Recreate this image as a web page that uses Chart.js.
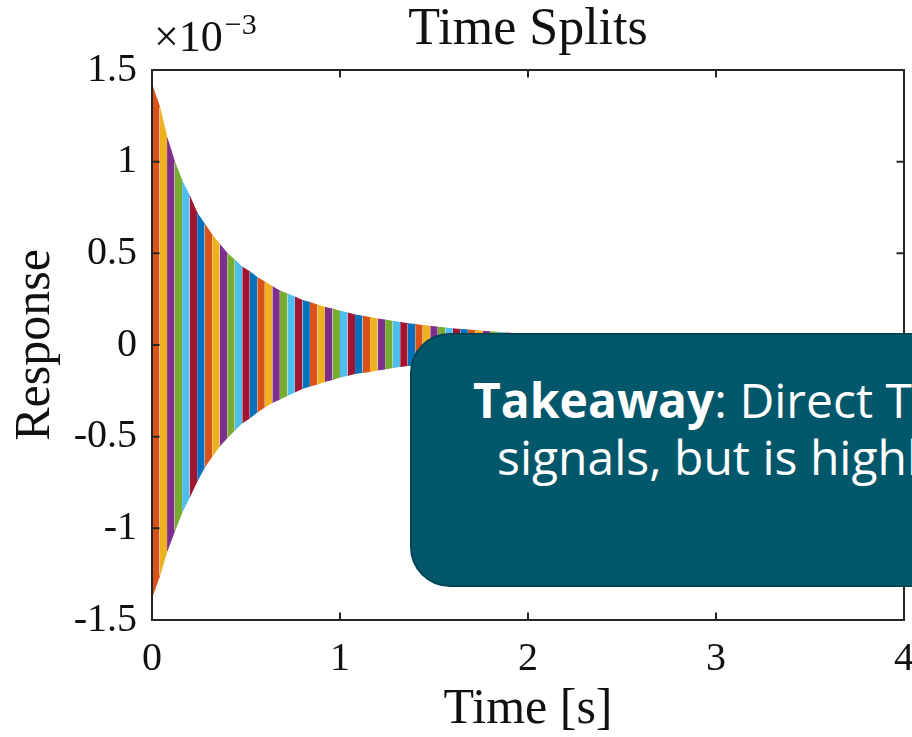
<!DOCTYPE html>
<html>
<head>
<meta charset="utf-8">
<script src="https://cdn.jsdelivr.net/npm/chart.js@4.4.0/dist/chart.umd.min.js"></script>
<style>
  html, body { margin: 0; padding: 0; background: #ffffff; overflow: hidden; }
  #wrap { position: relative; width: 912px; height: 737px; overflow: hidden; }
  #chart { position: absolute; left: 0; top: 0; }
  .takeaway {
    position: absolute; left: 410px; top: 333px;
    width: 820px; height: 250px;
    background: #02576a; border: 2px solid #014656; border-radius: 40px;
    color: #ffffff; font-family: "Open Sans", sans-serif; font-size: 48px; line-height: 57px;
    white-space: nowrap; box-sizing: content-box;
  }
  .takeaway .l1 { position: absolute; left: 61px; top: 36px; }
  .takeaway .l2 { position: absolute; left: 85px; top: 93px; }
  .takeaway b { font-weight: 700; }
</style>
</head>
<body>
<div id="wrap">
  <canvas id="chart" width="960" height="737"></canvas>
  <div class="takeaway">
    <div class="l1"><b>Takeaway</b>: Direct Time Splits handles long</div>
    <div class="l2">signals, but is highly sensitive to the split</div>
  </div>
</div>
<script>
// Boundaries of the 0.04 s time splits [s]
const splitTimes = [
  0.00, 0.04, 0.08, 0.12, 0.16, 0.20, 0.24, 0.28, 0.32, 0.36,
  0.40, 0.44, 0.48, 0.52, 0.56, 0.60, 0.64, 0.68, 0.72, 0.76,
  0.80, 0.84, 0.88, 0.92, 0.96, 1.00, 1.04, 1.08, 1.12, 1.16,
  1.20, 1.24, 1.28, 1.32, 1.36, 1.40, 1.44, 1.48, 1.52, 1.56,
  1.60, 1.64, 1.68, 1.72, 1.76, 1.80, 1.84, 1.88, 1.92, 1.96,
  2.00, 2.04, 2.08, 2.12, 2.16, 2.20, 2.24, 2.28, 2.32, 2.36,
  2.40, 2.44, 2.48, 2.52, 2.56, 2.60, 2.64, 2.68, 2.72, 2.76,
  2.80, 2.84, 2.88, 2.92, 2.96, 3.00, 3.04, 3.08, 3.12, 3.16,
  3.20, 3.24, 3.28, 3.32, 3.36, 3.40, 3.44, 3.48, 3.52, 3.56,
  3.60, 3.64, 3.68, 3.72, 3.76, 3.80, 3.84, 3.88, 3.92, 3.96,
  4.00
];

// Positive peak envelope of the response at each split boundary [x 1e-3]
const upperEnvelope = [
  1.418, 1.300, 1.130, 1.000, 0.895, 0.813, 0.720, 0.660, 0.600, 0.550,
  0.500, 0.464, 0.425, 0.400, 0.368, 0.344, 0.319, 0.295, 0.278, 0.262,
  0.243, 0.232, 0.218, 0.205, 0.196, 0.185, 0.175, 0.164, 0.157, 0.150,
  0.142, 0.136, 0.129, 0.123, 0.116, 0.112, 0.106, 0.102, 0.097, 0.093,
  0.088, 0.085, 0.082, 0.079, 0.075, 0.072, 0.069, 0.066, 0.063, 0.060,
  0.058, 0.055, 0.053, 0.050, 0.048, 0.046, 0.044, 0.042, 0.040, 0.038,
  0.037, 0.035, 0.034, 0.032, 0.031, 0.029, 0.028, 0.027, 0.026, 0.024,
  0.023, 0.022, 0.021, 0.020, 0.019, 0.019, 0.018, 0.017, 0.016, 0.016,
  0.015, 0.014, 0.014, 0.013, 0.012, 0.012, 0.011, 0.011, 0.010, 0.010,
  0.009, 0.009, 0.009, 0.008, 0.008, 0.008, 0.007, 0.007, 0.007, 0.006,
  0.006
];

// Negative peak envelope of the response at each split boundary [x 1e-3]
const lowerEnvelope = [
  -1.375, -1.260, -1.124, -1.015, -0.911, -0.829, -0.742, -0.666, -0.606, -0.551,
  -0.507, -0.464, -0.425, -0.398, -0.366, -0.338, -0.314, -0.295, -0.276, -0.256,
  -0.237, -0.224, -0.213, -0.199, -0.188, -0.175, -0.166, -0.155, -0.150, -0.145,
  -0.136, -0.131, -0.123, -0.117, -0.112, -0.108, -0.103, -0.099, -0.095, -0.091,
  -0.087, -0.083, -0.080, -0.077, -0.074, -0.071, -0.068, -0.065, -0.062, -0.059,
  -0.057, -0.054, -0.052, -0.049, -0.047, -0.045, -0.043, -0.041, -0.039, -0.037,
  -0.036, -0.034, -0.033, -0.031, -0.030, -0.028, -0.027, -0.026, -0.025, -0.023,
  -0.022, -0.021, -0.020, -0.019, -0.018, -0.018, -0.017, -0.016, -0.015, -0.015,
  -0.014, -0.013, -0.013, -0.012, -0.011, -0.011, -0.010, -0.010, -0.009, -0.009,
  -0.008, -0.008, -0.008, -0.007, -0.007, -0.007, -0.006, -0.006, -0.006, -0.005,
  -0.005
];

// Line colours cycle through the default colour order, one per split
const splitColors = ['#D95319', '#EDB120', '#7E2F8E', '#77AC30', '#4DBEEE', '#A2142F', '#0072BD'];

const xTickLabels = ['0', '1', '2', '3', '4'];
const yTickLabels = ['-1.5', '-1', '-0.5', '0', '0.5', '1', '1.5'];
const yTickValues = [-1.5, -1, -0.5, 0, 0.5, 1, 1.5];

const chartTitle = 'Time Splits';

const SERIF = '"Liberation Serif", "DejaVu Serif", serif';
const INK = '#111111';
const AXIS = '#262626';

// Each split is drawn as its own series: positive and negative swings
const datasets = [];
for (let i = 0; i < splitTimes.length - 1; i++) {
  const col = splitColors[i % splitColors.length];
  const idx = [i, i + 1];
  [upperEnvelope, lowerEnvelope].forEach(env => {
    datasets.push({
      data: idx.map(k => ({ x: splitTimes[k], y: env[k] })),
      borderColor: col,
      backgroundColor: col,
      borderWidth: 1,
      pointRadius: 0,
      fill: 'origin',
      tension: 0
    });
  });
}

// Box frame, inward ticks on all four sides, title over the axes and the exponent
const framePlugin = {
  id: 'frame',
  afterDatasetsDraw(chart) {
    const { ctx, chartArea: a, scales: { x, y } } = chart;
    ctx.save();
    ctx.strokeStyle = AXIS;
    ctx.lineWidth = 2;
    ctx.strokeRect(a.left, a.top, a.right - a.left, a.bottom - a.top);
    const len = 7.5;
    ctx.beginPath();
    x.ticks.forEach(t => {
      const px = x.getPixelForValue(t.value);
      ctx.moveTo(px, a.bottom); ctx.lineTo(px, a.bottom - len);
      ctx.moveTo(px, a.top); ctx.lineTo(px, a.top + len);
    });
    y.ticks.forEach(t => {
      const py = y.getPixelForValue(t.value);
      ctx.moveTo(a.left, py); ctx.lineTo(a.left + len, py);
      ctx.moveTo(a.right, py); ctx.lineTo(a.right - len, py);
    });
    ctx.stroke();

    ctx.fillStyle = INK;
    ctx.textBaseline = 'alphabetic';

    // title centred over the axes box
    ctx.textAlign = 'center';
    ctx.font = '52px ' + SERIF;
    ctx.fillText(chartTitle, (a.left + a.right) / 2, a.top - 26);

    // common exponent of the y axis
    ctx.textAlign = 'left';
    ctx.font = '44px ' + SERIF;
    const base = '\u00d710';
    ctx.fillText(base, a.left + 2, a.top - 19);
    const w = ctx.measureText(base).width;
    ctx.font = '30px ' + SERIF;
    ctx.fillText('\u22123', a.left + 2 + w + 2, a.top - 36);
    ctx.restore();
  }
};

new Chart(document.getElementById('chart'), {
  type: 'line',
  data: { datasets },
  options: {
    responsive: false,
    animation: false,
    events: [],
    layout: { padding: { left: 6, right: 56, top: 70, bottom: 0 } },
    plugins: {
      legend: { display: false },
      tooltip: { enabled: false },
      title: { display: false }
    },
    scales: {
      x: {
        type: 'linear',
        min: 0, max: 4,
        grid: { display: false, drawTicks: false },
        border: { display: false },
        ticks: {
          stepSize: 1,
          padding: 15,
          color: INK,
          font: { family: SERIF, size: 40 },
          maxRotation: 0,
          callback: (v) => xTickLabels[Math.round(v)]
        },
        title: {
          display: true,
          text: 'Time [s]',
          color: INK,
          font: { family: SERIF, size: 50, lineHeight: 1.2 },
          padding: { top: 0, bottom: -3 }
        },
        afterFit(scale) { scale.height = 117; }
      },
      y: {
        type: 'linear',
        min: -1.5, max: 1.5,
        grid: { display: false, drawTicks: false },
        border: { display: false },
        afterBuildTicks(scale) { scale.ticks = yTickValues.map(v => ({ value: v })); },
        ticks: {
          padding: 15,
          color: INK,
          font: { family: SERIF, size: 40 },
          callback: (v) => yTickLabels[yTickValues.indexOf(v)]
        },
        title: {
          display: true,
          text: 'Response',
          color: INK,
          font: { family: SERIF, size: 50, lineHeight: 1.2 },
          padding: 0
        },
        afterFit(scale) { scale.width = 146; }
      }
    }
  },
  plugins: [framePlugin]
});
</script>
</body>
</html>
